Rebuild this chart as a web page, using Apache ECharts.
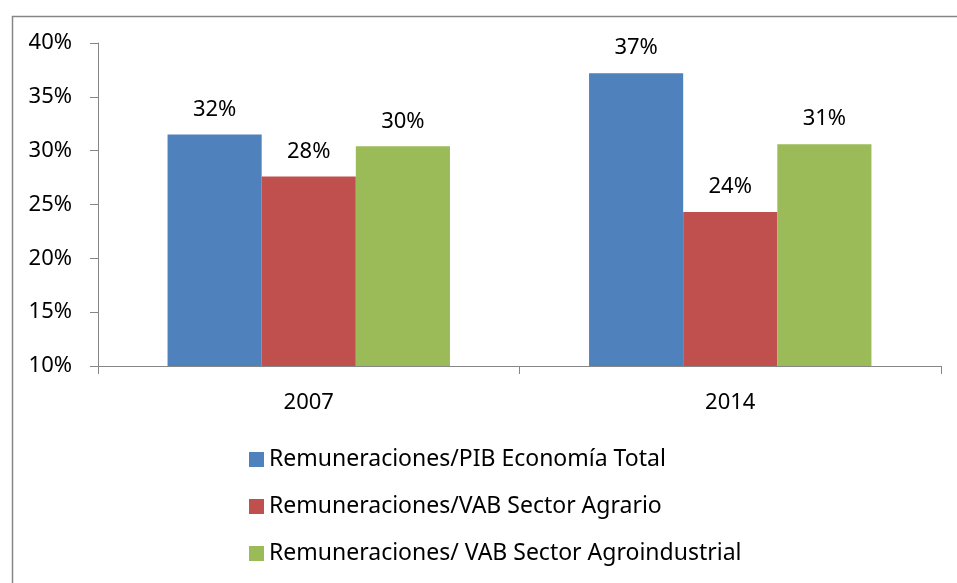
<html>
<head>
<meta charset="utf-8">
<title>Remuneraciones</title>
<script src="https://cdn.jsdelivr.net/npm/echarts@6/dist/echarts.min.js"></script>
<style>
  body{ margin:0; background:#fff; }
  #container{ width:957px; height:583px; }
</style>
</head>
<body>
<div id="container"></div>
<script type="text/javascript">
  var years = ['2007', '2014'];
  var seriesNames = ['Remuneraciones/PIB Economía Total', 'Remuneraciones/VAB Sector Agrario', 'Remuneraciones/ VAB Sector Agroindustrial'];
  var pibTotal = [31.5, 37.2];
  var vabAgrario = [27.6, 24.3];
  var vabAgroind = [30.4, 30.6];
  var colors = ['#4F81BD', '#C0504D', '#9BBB59'];

  var font = 'Noto Sans';
  var fs = 22;
  var dom = document.getElementById("container");
  var myChart = echarts.init(dom);

  function mkSeries(name, data, color){
    return {
      name: name,
      type: 'bar',
      data: data,
      barGap: 0,
      barCategoryGap: '33%',
      itemStyle: { color: color },
      label: {
        show: true,
        position: 'top',
        distance: 14,
        color: '#000',
        fontFamily: font,
        fontSize: fs,
        formatter: function(p){ return Math.round(p.value) + '%'; }
      }
    };
  }

  var option = {
    animation: false,
    backgroundColor: '#fff',
    graphic: [{
      type: 'rect',
      left: 10, top: 14,
      shape: { width: 960, height: 600 },
      style: { fill: 'none', stroke: '#868686', lineWidth: 1.5 }
    }],
    grid: { left: 98, right: 16, top: 43, bottom: 217 },
    legend: {
      orient: 'vertical',
      left: 244,
      top: 443,
      itemWidth: 15,
      itemHeight: 15,
      itemGap: 24,
      icon: 'rect',
      textStyle: { fontFamily: font, fontSize: 23, color: '#000' },
      data: seriesNames
    },
    xAxis: {
      type: 'category',
      data: years,
      axisLine: { lineStyle: { color: '#868686', width: 1 } },
      axisTick: { show: true, length: 8, lineStyle: { color: '#868686' } },
      axisLabel: { color: '#000', fontFamily: font, fontSize: fs, margin: 26 }
    },
    yAxis: {
      type: 'value',
      min: 10, max: 40, interval: 5,
      axisLine: { show: true, lineStyle: { color: '#868686', width: 1 } },
      axisTick: { show: true, length: 8, lineStyle: { color: '#868686' } },
      splitLine: { show: false },
      axisLabel: { color: '#000', fontFamily: font, fontSize: fs, margin: 26,
        formatter: function(v){ return v + '%'; } }
    },
    series: [
      mkSeries(seriesNames[0], pibTotal, colors[0]),
      mkSeries(seriesNames[1], vabAgrario, colors[1]),
      mkSeries(seriesNames[2], vabAgroind, colors[2])
    ]
  };
  myChart.setOption(option);
</script>
</body>
</html>
